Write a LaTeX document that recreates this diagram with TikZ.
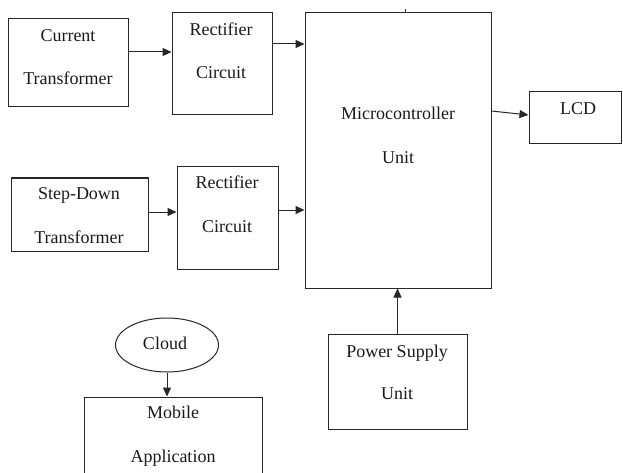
\documentclass[tikz,border=0pt]{standalone}
\usepackage{fontspec}
\setmainfont{Liberation Serif}
\usetikzlibrary{arrows.meta,shapes.geometric}
\begin{document}
\begin{tikzpicture}[x=1pt,y=-1pt,
  box/.style={draw=black!85,line width=1pt,inner sep=0pt,rectangle},
  oval/.style={draw=black!85,line width=1pt,inner sep=0pt,ellipse},
  lbl/.style={anchor=base,inner sep=0pt,text=black!90,font=\fontsize{18}{22}\selectfont},
  arr/.style={draw=black!85,line width=1pt,-{Triangle[length=9pt,width=8pt]}}]
\useasboundingbox (0,0) rectangle (623,473);
\clip (0,0) rectangle (623,473);
% blocks
\node[box,minimum width=120pt,minimum height=88pt] (ct) at (68,63) {};
\node[box,minimum width=100pt,minimum height=102pt] (r1) at (222,64) {};
\node[box,minimum width=186pt,minimum height=275pt] (mcu) at (398,150.5) {};
\node[box,minimum width=92pt,minimum height=52pt] (lcd) at (575,118) {};
\node[box,minimum width=137pt,minimum height=73pt] (sd) at (79.5,214.5) {};
\node[box,minimum width=101pt,minimum height=102pt] (r2) at (227.5,218) {};
\node[oval,minimum width=103pt,minimum height=54pt] (cloud) at (167,345) {};
\node[box,minimum width=178pt,minimum height=83pt] (mob) at (173,438.5) {};
\node[box,minimum width=139pt,minimum height=95pt] (psu) at (397.5,381.5) {};
% small tick on top of the controller
\coordinate (tick) at (405,9);
\draw[draw=black!85,line width=1pt] (tick) -- (tick |- mcu.north);
% labels
\node[lbl] (t1) at (68,42) {Current};
\node[lbl] (t2) at (68,85) {Transformer};
\node[lbl] (t3) at (221,36) {Rectifier};
\node[lbl] (t4) at (221,79) {Circuit};
\node[lbl] (t5) at (398,120) {Microcontroller};
\node[lbl] (t6) at (398,164) {Unit};
\node[lbl] (t7) at (578,115) {LCD};
\node[lbl] (t8) at (79,200) {Step-Down};
\node[lbl] (t9) at (79,243) {Transformer};
\node[lbl] (t10) at (227,188) {Rectifier};
\node[lbl] (t11) at (227,232) {Circuit};
\node[lbl] (t12) at (165,349) {Cloud};
\node[lbl] (t13) at (173,418) {Mobile};
\node[lbl] (t14) at (173,462) {Application};
\node[lbl] (t15) at (397,357) {Power Supply};
\node[lbl] (t16) at (397,399) {Unit};
% connectors
\draw[arr] ([yshift=11pt]ct.east) -- ([yshift=11pt]ct.east -| r1.west);
\draw[arr] ([yshift=20pt]r1.east) -- ([yshift=20pt]r1.east -| mcu.west);
\draw[arr] ([yshift=2.5pt]sd.east) -- ([yshift=2.5pt]sd.east -| r2.west);
\draw[arr] ([yshift=8pt]r2.east) -- ([yshift=8pt]r2.east -| mcu.west);
\draw[arr] ([yshift=39.5pt]mcu.east) -- ([yshift=3pt]lcd.west);
\draw[arr] (cloud.south) -- (cloud.south |- mob.north);
\draw[arr] (psu.north) -- (psu.north |- mcu.south);
\end{tikzpicture}
\end{document}
